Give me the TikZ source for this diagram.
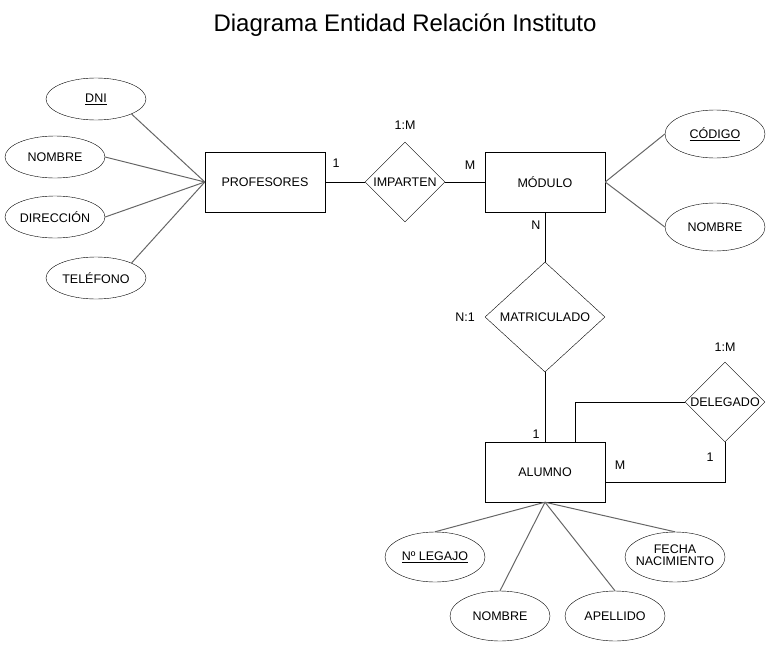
\documentclass[tikz,border=0pt]{standalone}
\usepackage{fontspec}
\setmainfont{Liberation Sans}
\usepackage{tikz}
\usetikzlibrary{shapes.geometric}
\definecolor{attrgray}{HTML}{666666}

\begin{document}
\begin{tikzpicture}[
  x=1pt, y=-1pt,
  entity/.style={draw, rectangle, minimum width=120pt, minimum height=60pt,
                 inner sep=0pt, font=\fontsize{12.5}{14}\selectfont},
  attr/.style={draw, ellipse, minimum width=100pt, minimum height=42pt,
               inner sep=0pt, font=\fontsize{12.5}{14}\selectfont},
  rel/.style={draw, diamond, inner sep=0pt, minimum width=80pt, minimum height=80pt,
              font=\fontsize{12.5}{14}\selectfont},
  card/.style={font=\fontsize{12.5}{14}\selectfont, inner sep=0pt},
  attrline/.style={attrgray, line width=1pt},
  relline/.style={black, line width=0.8pt}]
\useasboundingbox (0,0) rectangle (771,648);
\node[font=\fontsize{24}{28}\selectfont] (title) at (405,25) {Diagrama Entidad Relación Instituto};
% entidades
\node[entity] (prof) at (265,182) {PROFESORES};
\node[entity] (modulo) at (545,182) {MÓDULO};
\node[entity] (alumno) at (545,472) {ALUMNO};
% relaciones
\node[rel] (imparten) at (405,182) {IMPARTEN};
\node[rel, minimum width=120pt, minimum height=110pt] (matric) at (545,317) {MATRICULADO};
\node[rel] (delegado) at (725,402) {DELEGADO};
% atributos profesores
\node[attr] (dni) at (96,99) {\underline{DNI}};
\node[attr] (pnombre) at (55,157) {NOMBRE};
\node[attr] (direccion) at (55,217) {DIRECCIÓN};
\node[attr] (telefono) at (96,278) {TELÉFONO};
% atributos modulo
\node[attr, minimum height=48pt] (codigo) at (715,134) {\underline{CÓDIGO}};
\node[attr, minimum height=48pt] (mnombre) at (715,227) {NOMBRE};
% atributos alumno
\node[attr, minimum height=50pt] (legajo) at (435,557) {\underline{Nº LEGAJO}};
\node[attr, minimum height=50pt] (fecha) at (675,557)
  {\makebox[0pt]{\begin{tabular}{@{}c@{}}FECHA\\[-2pt]NACIMIENTO\end{tabular}}};
\node[attr, minimum height=50pt] (anombre) at (500,616) {NOMBRE};
\node[attr, minimum height=50pt] (apellido) at (615,616) {APELLIDO};
% cardinalidades
\node[card] (c1) at (336,163) {1};
\node[card] (c2) at (470,165) {M};
\node[card] (c3) at (405,125) {1:M};
\node[card] (c4) at (536,225) {N};
\node[card] (c5) at (465,317) {N:1};
\node[card] (c6) at (536,434) {1};
\node[card] (c7) at (725,347) {1:M};
\node[card] (c8) at (620,465) {M};
\node[card] (c9) at (710,457) {1};
% lineas atributos
\draw[attrline] (dni.south east) -- (prof.west);
\draw[attrline] (pnombre.east) -- (prof.west);
\draw[attrline] (direccion.east) -- (prof.west);
\draw[attrline] (telefono.north east) -- (prof.west);
\draw[attrline] (modulo.east) -- (codigo.west);
\draw[attrline] (modulo.east) -- (mnombre.west);
\draw[attrline] (alumno.south) -- (legajo.north);
\draw[attrline] (alumno.south) -- (anombre.north);
\draw[attrline] (alumno.south) -- (apellido.north);
\draw[attrline] (alumno.south) -- (fecha.north);
% lineas relaciones
\draw[relline] (prof.east) -- (imparten.west);
\draw[relline] (imparten.east) -- (modulo.west);
\draw[relline] (modulo.south) -- (matric.north);
\draw[relline] (matric.south) -- (alumno.north);
\draw[relline] ([xshift=30pt]alumno.north) |- (delegado.west);
\draw[relline] (delegado.south) |- ([yshift=-10pt]alumno.east);
\end{tikzpicture}
\end{document}
